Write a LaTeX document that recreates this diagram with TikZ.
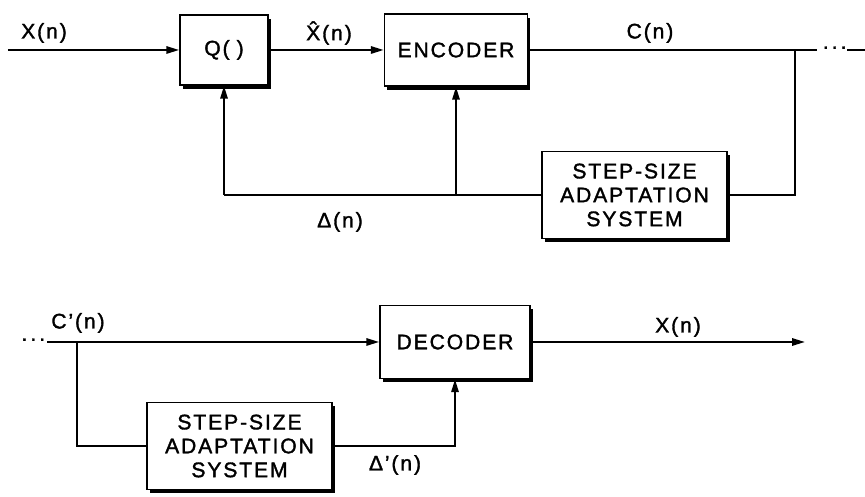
\documentclass[tikz,border=0pt]{standalone}
\usepackage{fontspec}
\setmainfont{Liberation Sans}
\newfontfamily\diagfont{Liberation Sans}[LetterSpace=9,FakeBold=1.6]
\usetikzlibrary{arrows.meta,shadows}
\tikzset{
  block/.style={draw=black, fill=white, line width=1.1pt, align=center,
    inner sep=3pt, font=\diagfont\fontsize{15}{17}\selectfont,
    drop shadow={shadow xshift=0.07cm, shadow yshift=-0.09cm, fill=black, opacity=1}},
  sig/.style={font=\diagfont\fontsize{15}{17}\selectfont, inner sep=1pt},
  wire/.style={line width=1.5pt, draw=black},
  flow/.style={-{Triangle[length=3.2mm,width=1.8mm]}, line width=1.5pt, draw=black}
}

\begin{document}
\begin{tikzpicture}[x=1cm,y=1cm]
\useasboundingbox (0,0) rectangle (21.625,12.425);

% Encoder side
\node[block, minimum width=2.2cm, minimum height=1.75cm] (q) at (5.6,11.175) {Q(\,\,)};
\node[block, minimum width=3.575cm, minimum height=1.8cm] (enc) at (11.4,11.175) {ENCODER};
\node[block, minimum width=4.625cm, minimum height=2.175cm] (ssa) at (15.8625,7.55) {STEP-SIZE\\ADAPTATION\\SYSTEM};

\coordinate (xin) at (0.2,11.175);
\coordinate (jc) at (19.875,11.175);
\coordinate (cend) at (20.425,11.175);
\coordinate (fb) at (5.6,7.55);
\coordinate (cstub) at (21.625,11.175);
\node[sig, anchor=west, inner sep=0pt] (tdots) at (20.55,11.175) {···};

\node[sig] (lx) at (1.1,11.6) {X(n)};
\node[sig] (lxh) at (8.225,11.6) {\^X(n)};
\node[sig] (lc) at (16.25,11.6) {C(n)};
\node[sig] (ld) at (8.5,6.875) {Δ(n)};

\draw[flow] (xin) -- (q.west);
\draw[flow] (q.east) -- (enc.west);
\draw[wire] (enc.east) -- (cend);
\draw[wire] (tdots.east) -- (cstub);
\draw[wire] (jc) |- (ssa.east);
\draw[wire] (ssa.west) -- (fb);
\draw[flow] (fb) -- (q.south);
\draw[flow] (enc.south |- fb) -- (enc.south);

% Decoder side
\node[block, minimum width=3.75cm, minimum height=1.825cm] (dec) at (11.375,3.875) {DECODER};
\node[block, minimum width=4.625cm, minimum height=2.175cm] (ssb) at (5.9875,1.275) {STEP-SIZE\\ADAPTATION\\SYSTEM};

\node[sig, anchor=east, inner sep=0pt] (bdots) at (1.15,3.875) {···};
\coordinate (cin) at (1.175,3.875);
\coordinate (jb) at (1.925,3.875);
\coordinate (xout) at (20.125,3.875);

\node[sig] (lcp) at (1.95,4.35) {C’(n)};
\node[sig] (lxo) at (16.95,4.25) {X(n)};
\node[sig] (ldp) at (9.875,0.8) {Δ’(n)};

\draw[flow] (cin) -- (dec.west);
\draw[wire] (jb) |- (ssb.west);
\draw[flow] (ssb.east) -| (dec.south);
\draw[flow] (dec.east) -- (xout);

\end{tikzpicture}
\end{document}
